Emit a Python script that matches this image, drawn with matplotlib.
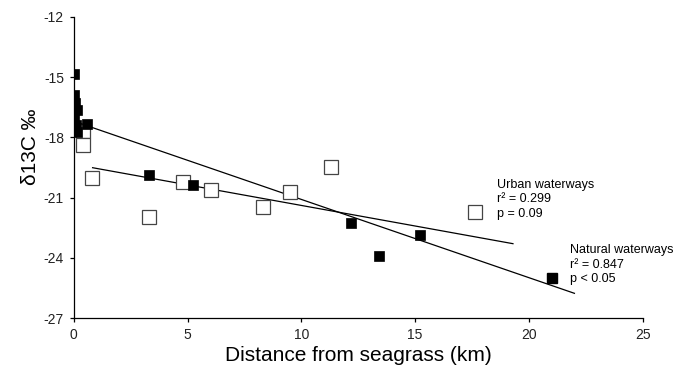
import matplotlib
matplotlib.use("Agg")
import matplotlib.pyplot as plt
from matplotlib.lines import Line2D
import numpy as np

plt.rcParams['font.family'] = ['Liberation Sans', 'DejaVu Sans']
plt.rcParams['axes.unicode_minus'] = False

# Natural waterways (filled squares)
natural_x = [0.02, 0.03, 0.07, 0.13, 0.02, 0.10, 0.16, 0.60, 3.32, 5.23, 12.2, 13.43, 15.2]
natural_y = [-14.85, -15.9, -16.3, -16.65, -17.05, -17.4, -17.75, -17.35, -19.85, -20.35, -22.25, -23.9, -22.85]

# Urban waterways (open squares)
urban_x = [0.42, 0.42, 0.80, 3.32, 4.82, 6.02, 8.33, 9.5, 11.3]
urban_y = [-17.7, -18.37, -20.03, -21.95, -20.23, -20.63, -21.45, -20.73, -19.47]

# Regression lines (slope, intercept, x-extent)
natural_fit = dict(slope=-0.390, intercept=-17.19, x=[0.0, 22.0])
urban_fit = dict(slope=-0.205, intercept=-19.34, x=[0.83, 19.3])

natural_lines = ["Natural waterways", "r² = 0.847", "p < 0.05"]
urban_lines = ["Urban waterways", "r² = 0.299", "p = 0.09"]

x_ticks = [0, 5, 10, 15, 20, 25]
y_ticks = [-27, -24, -21, -18, -15, -12]

fig = plt.figure(figsize=(6.83, 3.71), dpi=100)
ax = fig.add_axes([73.7 / 683, 1 - 318 / 371, (642.7 - 73.7) / 683, (318 - 17) / 371])

for fit in (natural_fit, urban_fit):
    xs = np.array(fit['x'])
    ax.plot(xs, fit['slope'] * xs + fit['intercept'], color='black', lw=0.9, zorder=2)

ax.plot(urban_x, urban_y, ls='none', marker='s', ms=10, mfc='white', mec='#444444', mew=0.9, zorder=3)
ax.plot(natural_x, natural_y, ls='none', marker='s', ms=7.5, mfc='black', mec='black', mew=0.5, zorder=4)

ax.set_xlim(0, 25)
ax.set_ylim(-27, -12)
ax.set_xticks(x_ticks)
ax.set_yticks(y_ticks)
ax.spines['top'].set_visible(False)
ax.spines['right'].set_visible(False)
for s in ('left', 'bottom'):
    ax.spines[s].set_linewidth(0.9)
ax.tick_params(direction='out', length=3, width=0.9, pad=4, labelsize=10, labelcolor='#222222')

ax.set_xlabel("Distance from seagrass (km)", fontsize=15, labelpad=3)
ax.set_ylabel("δ13C ‰", fontsize=15, labelpad=4)
ax.yaxis.set_label_coords(-0.060, 0.57)

# legends: one entry per text line, marker on the last line
blank = Line2D([], [], ls='none', marker='None')
h_urban = Line2D([], [], ls='none', marker='s', ms=10, mfc='white', mec='#444444', mew=0.9)
h_nat = Line2D([], [], ls='none', marker='s', ms=7.5, mfc='black', mec='black')
common = dict(frameon=False, fontsize=9, handlelength=1.0, borderpad=0, borderaxespad=0,
              labelspacing=0.18, loc='lower left', bbox_transform=fig.transFigure)
leg1 = ax.legend([blank, blank, h_urban], urban_lines, handletextpad=1.25,
                 bbox_to_anchor=(468.4 / 683, 1 - 219.5 / 371), **common)
ax.add_artist(leg1)
ax.legend([blank, blank, h_nat], natural_lines, handletextpad=0.92,
          bbox_to_anchor=(545.8 / 683, 1 - 285.0 / 371), **common)

fig.savefig("out.png", dpi=100)
